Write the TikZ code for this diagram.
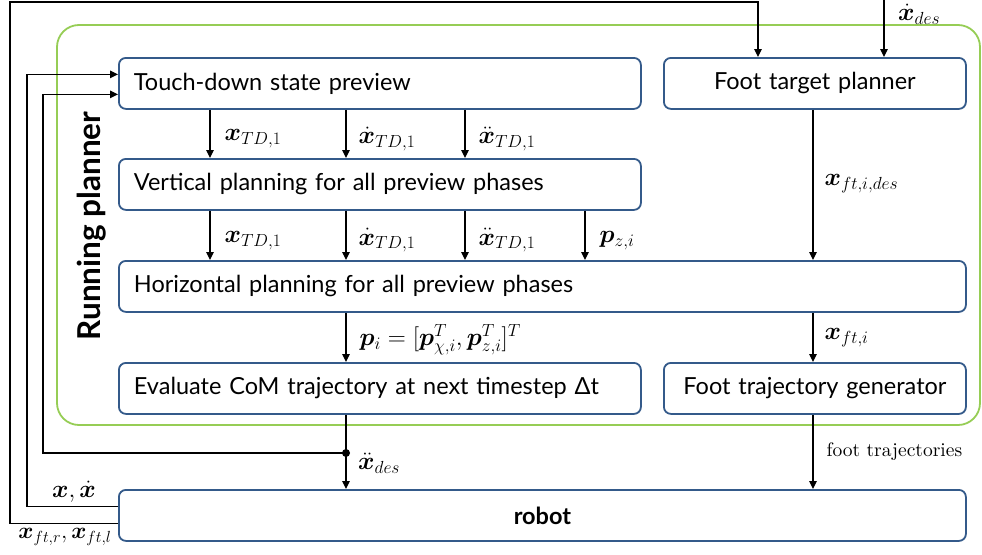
\RequirePackage{fix-cm}
\documentclass[tikz,border=0pt]{standalone}
\usepackage{fontspec}
\usepackage{amsmath,bm}
\usetikzlibrary{arrows.meta,calc}
\newfontfamily\boxfont{Lato}
\newfontfamily\lmten{lmroman10-regular}[Extension=.otf]
\definecolor{boxblue}{RGB}{52,90,138}
\definecolor{plangreen}{RGB}{150,205,85}
\begin{document}
\begin{tikzpicture}[x=1pt,y=-1pt,
  blk/.style={draw=boxblue, line width=1.8pt, rounded corners=7pt, fill=white,
    anchor=north west, inner xsep=15pt, inner ysep=0pt, minimum height=51pt,
    font=\boxfont\fontsize{23.5}{27}\selectfont},
  lbox/.style={blk, align=left},
  cbox/.style={blk, align=center},
  arr/.style={draw=black, line width=1.1pt, -{Triangle[length=8pt,width=7.5pt]}},
  lab/.style={font=\fontsize{25}{29}\selectfont, inner sep=0pt}
]
\useasboundingbox (0,0) rectangle (982,554);

% green frame
\draw[plangreen, line width=1.8pt, rounded corners=22pt] (57,25) rectangle (980,425);
\node[font=\boxfont\bfseries\fontsize{31.5}{34}\selectfont, rotate=90] (rp) at (92,226) {Running planner};

% boxes
\node[lbox, text width=492pt] (td) at (118,57) {Touch-down state preview};
\node[cbox, text width=272pt] (ft) at (663,57) {Foot target planner};
\node[lbox, text width=492pt] (vp) at (118,158) {Vertical planning for all preview phases};
\node[lbox, text width=817pt] (hp) at (118,260) {Horizontal planning for all preview phases};
\node[lbox, text width=492pt] (ev) at (118,362) {Evaluate CoM trajectory at next timestep Δt};
\node[cbox, text width=272pt] (fg) at (663,362) {Foot trajectory generator};
\node[cbox, text width=817pt, font=\boxfont\bfseries\fontsize{23.5}{27}\selectfont] (rb) at (118,489) {robot};

% column coordinates
\coordinate (c1) at (210,0);
\coordinate (c2) at (346,0);
\coordinate (c3) at (465,0);
\coordinate (c4) at (585,0);
\coordinate (c5) at (813,0);
\coordinate (c6) at (758,0);
\coordinate (xin) at (884,0);
\coordinate (l1) at (27,0);
\coordinate (l2) at (10,2);
\coordinate (l3) at (43,0);
\coordinate (j) at (346,453);

% touch-down -> vertical
\draw[arr] (td.south -| c1) -- (vp.north -| c1) node[lab, pos=0.6, right=14pt] {$\bm{x}_{TD,1}$};
\draw[arr] (td.south -| c2) -- (vp.north -| c2) node[lab, pos=0.6, right=12pt] {$\dot{\bm{x}}_{TD,1}$};
\draw[arr] (td.south -| c3) -- (vp.north -| c3) node[lab, pos=0.6, right=13pt] {$\ddot{\bm{x}}_{TD,1}$};

% vertical -> horizontal
\draw[arr] (vp.south -| c1) -- (hp.north -| c1) node[lab, pos=0.6, right=14pt] {$\bm{x}_{TD,1}$};
\draw[arr] (vp.south -| c2) -- (hp.north -| c2) node[lab, pos=0.6, right=12pt] {$\dot{\bm{x}}_{TD,1}$};
\draw[arr] (vp.south -| c3) -- (hp.north -| c3) node[lab, pos=0.6, right=13pt] {$\ddot{\bm{x}}_{TD,1}$};
\draw[arr] (vp.south -| c4) -- (hp.north -| c4) node[lab, pos=0.6, right=14pt] {$\bm{p}_{z,i}$};

% foot target -> horizontal
\draw[arr] (ft.south -| c5) -- (hp.north -| c5) node[lab, pos=0.49, right=11pt] {$\bm{x}_{ft,i,des}$};

% horizontal -> evaluate / foot gen
\draw[arr] (hp.south -| c2) -- (ev.north -| c2) node[lab, pos=0.55, right=13pt] {$\bm{p}_i=[\bm{p}_{\chi,i}^T,\bm{p}_{z,i}^T]^T$};
\draw[arr] (hp.south -| c5) -- (fg.north -| c5) node[lab, pos=0.5, right=11pt] {$\bm{x}_{ft,i}$};

% to robot
\draw[arr] (ev.south -| c2) -- (rb.north -| c2);
\fill (j) circle (4pt);
\node[lab, anchor=west] (xdd) at (358,463) {$\ddot{\bm{x}}_{des}$};
\draw[arr] (fg.south -| c5) -- (rb.north -| c5) node[lab, pos=0.5, right=13pt, font=\lmten\fontsize{19.5}{23}\selectfont] {foot trajectories};

% inputs from top
\draw[arr] (xin) -- (ft.north -| xin);
\node[lab, anchor=west] (xdl) at (898,14) {$\dot{\bm{x}}_{des}$};

% feedback loops
\coordinate (tdin1) at ([yshift=9pt]td.west);
\coordinate (tdin2) at ([yshift=-11pt]td.west);
\coordinate (rbo1) at ([yshift=9pt]rb.west);
\coordinate (rbo2) at ([yshift=-8.5pt]rb.west);
\draw[arr] (rbo1) -| (l1 |- tdin1) -- (tdin1);
\draw[arr] (rbo2) -| (l2) -| (ft.north -| c6);
\draw[arr] (j) -| (l3 |- tdin2) -- (tdin2);
\node[lab] (xl) at (74,492) {$\bm{x},\dot{\bm{x}}$};
\node[lab, font=\fontsize{23}{27}\selectfont] (xfl) at (65,537) {$\bm{x}_{ft,r},\bm{x}_{ft,l}$};
\end{tikzpicture}
\end{document}
